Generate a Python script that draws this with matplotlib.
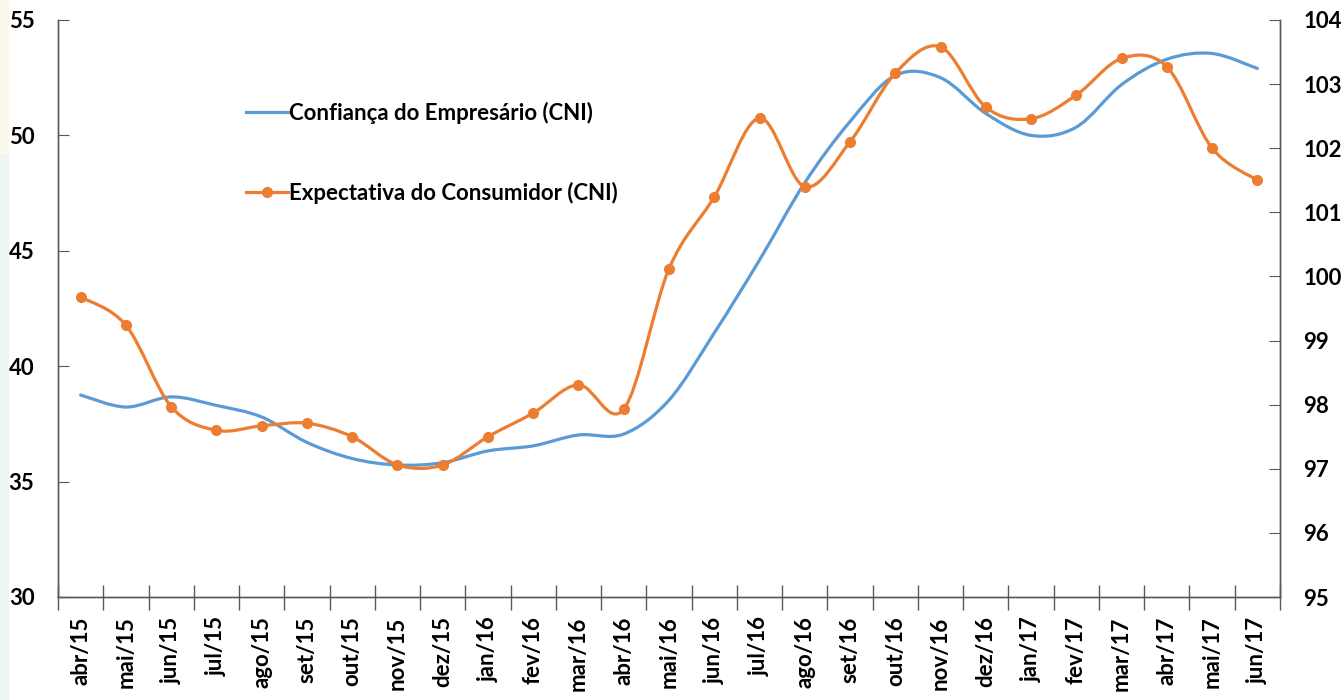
import matplotlib
matplotlib.use("Agg")
import matplotlib.pyplot as plt
import numpy as np
from matplotlib.path import Path
from matplotlib.patches import PathPatch, Rectangle
from matplotlib.lines import Line2D

plt.rcParams["font.family"] = ["Lato", "DejaVu Sans"]
plt.rcParams["font.weight"] = "bold"

# Data
months = ["abr/15", "mai/15", "jun/15", "jul/15", "ago/15", "set/15", "out/15",
          "nov/15", "dez/15", "jan/16", "fev/16", "mar/16", "abr/16", "mai/16",
          "jun/16", "jul/16", "ago/16", "set/16", "out/16", "nov/16", "dez/16",
          "jan/17", "fev/17", "mar/17", "abr/17", "mai/17", "jun/17"]
confianca = [38.75, 38.23, 38.67, 38.3, 37.8, 36.7, 36.0, 35.72, 35.82, 36.33,
             36.55, 37.02, 37.06, 38.53, 41.44, 44.6, 47.95, 50.6, 52.6, 52.5,
             50.95, 50.0, 50.36, 52.2, 53.3, 53.55, 52.9]
expectativa = [99.68, 99.24, 97.97, 97.6, 97.67, 97.71, 97.5, 97.06, 97.06, 97.5,
               97.87, 98.31, 97.93, 100.12, 101.24, 102.47, 101.4, 102.1, 103.17,
               103.58, 102.64, 102.46, 102.83, 103.4, 103.27, 102.0, 101.5]

label_conf = "Confiança do Empresário (CNI)"
label_exp = "Expectativa do Consumidor (CNI)"

BLUE = "#5B9BD5"
ORANGE = "#ED7D31"
AXC = "#595959"
WT = "bold"


def smooth_path(x, y):
    # Excel-like smoothed line: Catmull-Rom segments as cubic Bezier curves
    pts = np.column_stack([x, y]).astype(float)
    n = len(pts)
    verts = [pts[0]]
    codes = [Path.MOVETO]
    for i in range(n - 1):
        p0 = pts[max(i - 1, 0)]
        p1 = pts[i]
        p2 = pts[i + 1]
        p3 = pts[min(i + 2, n - 1)]
        verts += [p1 + (p2 - p0) / 6, p2 - (p3 - p1) / 6, p2]
        codes += [Path.CURVE4] * 3
    return Path(verts, codes)


fig = plt.figure(figsize=[13.44, 7.0], dpi=100)
# faint slide background on the left edge
fig.patches.append(Rectangle((0, 1 - 155 / 700), 8 / 1344, 155 / 700,
                             transform=fig.transFigure, color="#FBF8EC", zorder=0))
fig.patches.append(Rectangle((0, 0), 8 / 1344, 1 - 155 / 700,
                             transform=fig.transFigure, color="#EEF4F0", zorder=0))

ax = fig.add_axes([58 / 1344, 1 - 597 / 700, (1280 - 58) / 1344, 577 / 700])
ax2 = ax.twinx()

x = np.arange(len(months))

ax.add_patch(PathPatch(smooth_path(x, confianca), facecolor="none",
                       edgecolor=BLUE, lw=2.3, capstyle="round"))
ax2.add_patch(PathPatch(smooth_path(x, expectativa), facecolor="none",
                        edgecolor=ORANGE, lw=2.3, capstyle="round"))
ax2.plot(x, expectativa, linestyle="none", marker="o", ms=7, color=ORANGE)

ax.set_xlim(-0.5, len(months) - 0.5)
ax.set_ylim(30, 55)
ax2.set_ylim(95, 104)
ax.set_yticks(np.arange(30, 56, 5))
ax2.set_yticks(np.arange(95, 105, 1))

ax.set_xticks(x)
ax.set_xticklabels(months, rotation=90, fontsize=16, fontweight=WT)
ax.set_xticks(np.arange(-0.5, len(months), 1), minor=True)
ax.tick_params(axis="x", which="major", length=0, pad=14)
ax.tick_params(axis="x", which="minor", direction="inout", length=18,
               color=AXC, width=1)
ax.tick_params(axis="y", direction="in", length=8, color=AXC, pad=17,
               labelsize=16)
ax2.tick_params(axis="y", direction="in", length=8, color=AXC, pad=17,
                labelsize=16)
for lab in ax.get_yticklabels() + ax2.get_yticklabels():
    lab.set_fontweight(WT)

for a in (ax, ax2):
    a.spines["top"].set_visible(False)
    for s in ("left", "right", "bottom"):
        a.spines[s].set_color(AXC)
        a.spines[s].set_linewidth(1)

handles = [Line2D([], [], color=BLUE, lw=2.3),
           Line2D([], [], color=ORANGE, lw=2.3, marker="o", ms=7)]
ax2.legend(handles, [label_conf, label_exp], loc="upper left",
           bbox_to_anchor=(235 / 1344, 1 - 91 / 700), bbox_transform=fig.transFigure,
           frameon=False, labelspacing=2.6, handlelength=1.9,
           handletextpad=0.05, borderpad=0, prop={"weight": WT, "size": 16})

fig.savefig("out.png", dpi=100)
